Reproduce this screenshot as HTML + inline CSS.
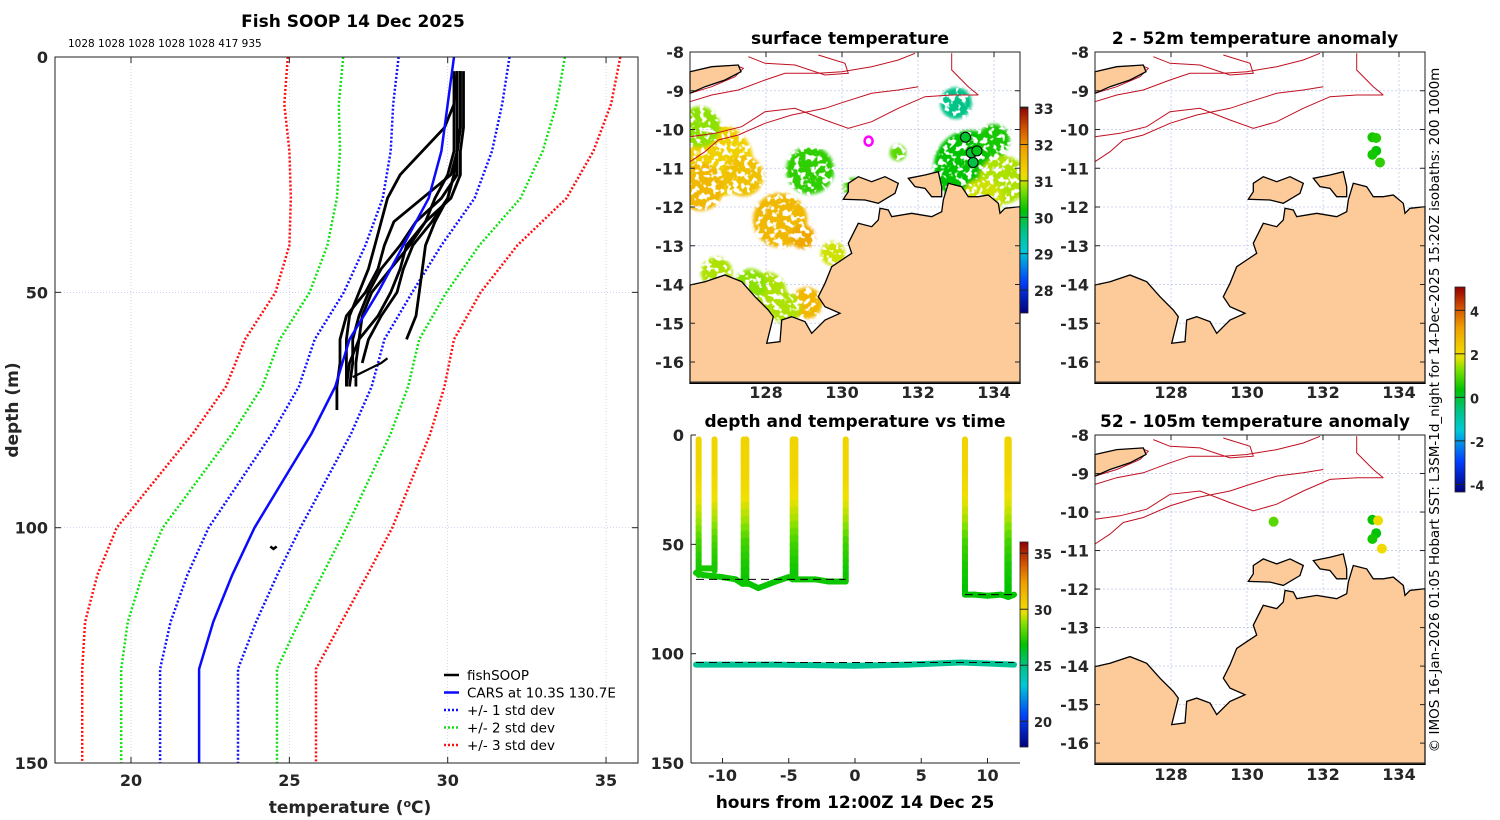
<!DOCTYPE html>
<html><head><meta charset="utf-8">
<style>
html,body{margin:0;padding:0;background:#fff;}
svg{display:block;font-family:"DejaVu Sans","Liberation Sans",sans-serif;}
.tk{font-size:16px;font-weight:bold;fill:#262626;}
.tt{font-size:17px;font-weight:bold;fill:#000;}
</style></head>
<body>
<svg id="fig" width="1500" height="820" viewBox="0 0 1500 820" xmlns="http://www.w3.org/2000/svg">
<defs>
<filter id="blur" x="-50%" y="-50%" width="200%" height="200%">
<feGaussianBlur in="SourceGraphic" stdDeviation="1.5" result="b"/>
<feTurbulence type="fractalNoise" baseFrequency="0.18" numOctaves="2" seed="3" result="n"/>
<feColorMatrix in="n" type="matrix" values="0 0 0 0 0  0 0 0 0 0  0 0 0 0 0  0 0 0 9 -3.3" result="m"/>
<feComposite in="b" in2="m" operator="in"/>
</filter>
</defs>
</svg>
<script>
// ---------- profile chart data ----------
const carsDepth=[0,10,20,30,40,50,60,70,80,90,100,110,120,130,150];
const carsMean=[30.2,30.0,29.8,29.4,28.6,27.8,26.9,26.45,25.7,24.8,23.9,23.2,22.6,22.15,22.15];
const carsStd=[1.75,1.72,1.6,1.45,1.2,1.08,1.1,1.15,1.25,1.35,1.45,1.42,1.35,1.23,1.23];
const profDepth=[3,10,15,20,25,30,35,40,45,50,55,60,65,70,75];
const prof1=[30.4,30.4,30.4,30.3,30.2,30.0,29.6,29.3,29.2,29.1,29.0,28.7,null,null,null];
const prof2=[30.3,30.2,29.9,29.2,28.5,28.1,27.9,27.7,27.5,27.2,26.9,26.8,26.8,26.8,null];
const prof3=[30.3,30.3,30.3,30.3,30.1,29.2,28.3,28.0,27.8,27.4,26.8,26.6,26.6,26.5,26.5];
const prof4=[30.4,30.4,30.4,30.3,30.3,29.8,29.0,28.5,27.9,27.5,27.2,27.0,27.0,26.9,null];
const prof5=[30.2,30.2,30.2,30.2,30.0,29.6,29.3,28.8,28.2,27.6,27.3,27.2,27.1,27.1,null];
const prof6=[30.3,30.3,30.3,30.3,30.2,30.0,29.5,28.9,28.6,28.4,27.9,27.5,27.3,null,null];
const prof7=[30.5,30.5,30.5,30.4,30.4,30.1,29.3,28.7,28.5,28.2,27.8,27.2,26.9,26.8,null];
const squiggleDepth=[68,67,66,65,64];
const squiggleTemp=[27.0,27.3,27.6,27.9,28.1];
const deepDepth=[104,104.5,104];
const deepTemp=[24.4,24.5,24.6];
const profXTicks=[20,25,30,35];
const profYTicks=[0,50,100,150];
const countsText="1028 1028 1028 1028 1028 417 935";

// ---------- time plot data ----------
const castTime=[-11.8,-10.6,-8.4,-8.2,-4.7,-4.5,-0.7,8.3,11.5,11.6];
const castBottom=[64,62,68,68,66,66,67,73,74,73];
const castProfDepth=[0,20,30,40,50,60,70,75];
const castProfTemp=[30.3,30.2,29.8,29.0,27.8,27.2,26.9,26.8];
const bottom1Time=[-12,-11.5,-10,-9,-8.5,-8,-7.3,-6,-5,-4.7];
const bottom1Depth=[63,64,65,66,68,68,70,67,65,66];
const bottom2Time=[-4.5,-3,-2,-0.7];
const bottom2Depth=[66,66,67,67];
const bottom3Time=[8.3,9,10,11,11.6,12];
const bottom3Depth=[73,73,73.5,73,74,73];
const shelfTime=[-11.7,-10.6];
const shelfDepth=[61,61];
const deepTrackTime=[-12,-6,0,4,8,10,12];
const deepTrackDepth=[105,105,105.5,105,104,104.5,105];
const deepTrackTemp=[24.6,24.6,24.6,24.6,24.7,24.6,24.6];
const dashTime=[[-12,-0.7],[-12,12],[8.3,12]];
const dashDepth=[66,104,73];
const timeXTicks=[-10,-5,0,5,10];
const timeYTicks=[0,50,100,150];
const timeCbTicks=[20,25,30,35];

// ---------- map data ----------
const lonTicks=[128,130,132,134];
const latTicks=[-8,-9,-10,-11,-12,-13,-14,-15,-16];
const sstLon=[126.7,126.26,127.4,128.37,128.97,129.16,130.3,133.37,134.24,133.0,128.0,129.07,126.7,129.76,131.47,126.26,133.7,134.0,127.6,128.5];
const sstLat=[-10.8,-11.48,-11.2,-12.34,-12.77,-11.05,-11.5,-10.96,-11.3,-9.32,-14.2,-14.48,-13.7,-13.2,-10.6,-9.93,-11.8,-10.27,-14.0,-14.6];
const sstRad=[0.8,0.53,0.45,0.6,0.27,0.53,0.22,0.8,0.53,0.35,0.45,0.35,0.35,0.27,0.18,0.45,0.45,0.35,0.35,0.35];
const sstVal=[31.3,31.6,31.5,31.6,31.8,30.4,30.5,30.2,30.9,29.6,30.9,31.6,30.9,31.0,30.6,30.8,31.0,30.3,30.8,30.9];
const sstCbTicks=[28,29,30,31,32,33];
const sstDotLon=[133.25,133.4,133.55,133.45];
const sstDotLat=[-10.2,-10.6,-10.55,-10.85];
const sstDotVal=[30.0,30.0,30.1,29.9];
const anomCbTicks=[-4,-2,0,2,4];
const anom1Lon=[133.3,133.4,133.4,133.3,133.5];
const anom1Lat=[-10.2,-10.22,-10.55,-10.65,-10.85];
const anom1Val=[0.5,0.6,0.4,0.5,0.7];
const anom2Lon=[130.7,133.3,133.45,133.4,133.3,133.55];
const anom2Lat=[-10.25,-10.2,-10.22,-10.55,-10.7,-10.95];
const anom2Val=[1.0,0.4,2.0,0.3,0.5,2.0];

// coastline (plot-relative pixel geometry within a 330x330 map box)
const mainlandZ=[[15,735],[60,725],[120,705],[170,725],[210,770],[250,810],[265,830],[245,910],[285,905],[290,840],[320,830],[360,845],[380,880],[420,840],[465,820],[420,800],[400,770],[420,730],[440,680],[470,660],[500,640],[490,610],[520,550],[560,560],[580,540],[585,505],[610,510],[620,530],[680,520],[740,530],[770,515],[775,480],[790,430],[830,440],[850,470],[880,470],[910,465],[940,490],[945,520],[960,505],[1005,500],[1005,1030],[15,1030]];
const melvilleZ=[[490,430],[520,410],[560,425],[600,410],[640,430],[630,460],[580,490],[540,480],[475,478],[490,455]];
const cobourgZ=[[670,415],[720,405],[760,395],[770,440],[770,470],[740,470],[720,445],[690,440]];
const timorZ=[[15,95],[80,80],[160,75],[168,95],[120,120],[60,140],[15,160]];
const iso1Z=[[15,185],[80,165],[160,150],[240,120],[300,100],[400,100],[470,95],[560,80],[640,60],[690,40]];
const iso2Z=[[15,290],[90,280],[170,260],[240,215],[330,205],[420,240],[490,265],[560,245],[640,205],[720,170],[800,165],[880,165]];
const iso3Z=[[15,365],[60,335],[100,300],[160,285],[240,250],[320,225],[420,205],[480,185],[560,160],[640,150],[700,140]];
const iso4Z=[[190,50],[240,70],[330,75],[420,105],[490,100],[480,70],[400,45]];
const iso5Z=[[800,40],[800,90],[850,140],[880,165]];
const iso6Z=[[15,160],[80,140],[150,110],[175,85],[150,75]];

const NS="http://www.w3.org/2000/svg";
const svg=document.getElementById('fig');
function mk(tag,attrs,parent){const e=document.createElementNS(NS,tag);for(const k in attrs)e.setAttribute(k,attrs[k]);(parent||svg).appendChild(e);return e;}
function txt(s,x,y,cls,anchor,parent){const t=mk('text',{x:x,y:y,'class':cls,'text-anchor':anchor||'middle'},parent);t.textContent=s;return t;}
const cmapPos=[0,0.15,0.3,0.4,0.5,0.6,0.66,0.8,0.9,1];
const cmapCol=[[0,0,128],[0,64,255],[0,200,215],[0,195,130],[0,195,0],[130,225,0],[240,225,0],[240,160,0],[210,80,0],[144,0,0]];
function jet(v){v=Math.max(0,Math.min(1,v));
 for(let i=1;i<cmapPos.length;i++){if(v<=cmapPos[i]){const f=(v-cmapPos[i-1])/(cmapPos[i]-cmapPos[i-1]);const a=cmapCol[i-1],b=cmapCol[i];
  return 'rgb('+Math.round(a[0]+f*(b[0]-a[0]))+','+Math.round(a[1]+f*(b[1]-a[1]))+','+Math.round(a[2]+f*(b[2]-a[2]))+')';}}
 return 'rgb(144,0,0)';}
function gradBar(id,x,y,w,h){const lg=mk('linearGradient',{id:id,x1:0,y1:1,x2:0,y2:0},svg.querySelector('defs'));
 for(let i=0;i<=40;i++){mk('stop',{offset:i/40,'stop-color':jet(i/40)},lg);}
 return mk('rect',{x:x,y:y,width:w,height:h,fill:'url(#'+id+')',stroke:'#222','stroke-width':0.8});}

// ================= PROFILE CHART =================
const P={x0:55,x1:638,y0:57,y1:763};
const tx=t=>131+(t-20)*31.67;
const dy=d=>57+d*4.707;
const gP=mk('g',{});


profXTicks.forEach(t=>{const l=mk('line',{x1:tx(t),x2:tx(t),y1:P.y0,y2:P.y1,stroke:'#b8c4e8','stroke-width':0.7,'stroke-dasharray':'1,2'},gP);
 
 const lb=txt(String(t),tx(t),786,'tk','middle',gP);
 
 mk('line',{x1:tx(t),x2:tx(t),y1:P.y1,y2:P.y1-6,stroke:'#222'},gP);mk('line',{x1:tx(t),x2:tx(t),y1:P.y0,y2:P.y0+6,stroke:'#222'},gP);});
profYTicks.forEach(d=>{if(d>0&&d<150){const l=mk('line',{x1:P.x0,x2:P.x1,y1:dy(d),y2:dy(d),stroke:'#b8c4e8','stroke-width':0.7,'stroke-dasharray':'1,2'},gP);
 }
 const lb=txt(String(d),48,dy(d)+6,'tk','end',gP);
 
 mk('line',{x1:P.x0,x2:P.x0+6,y1:dy(d),y2:dy(d),stroke:'#222'},gP);mk('line',{x1:P.x1,x2:P.x1-6,y1:dy(d),y2:dy(d),stroke:'#222'},gP);});
function polyPts(ts,ds){let s=[];for(let i=0;i<ts.length;i++){if(ts[i]==null)continue;s.push(tx(ts[i]).toFixed(1)+','+dy(ds[i]).toFixed(1));}return s.join(' ');}
const sdCols=['#1010ff','#10e010','#ff1010'];
[1,2,3].forEach(k=>{[-1,1].forEach(sg=>{const ts=carsMean.map((m,i)=>m+sg*k*carsStd[i]);
 const l=mk('polyline',{points:polyPts(ts,carsDepth),fill:'none',stroke:sdCols[k-1],'stroke-width':2.5,'stroke-dasharray':'2,2'},gP);
 });});
[prof1,prof2,prof3,prof4,prof5,prof6,prof7].forEach((p,i)=>{const l=mk('polyline',{points:polyPts(p,profDepth),fill:'none',stroke:'#000','stroke-width':2.8,'stroke-linejoin':'round'},gP);
 });
const sq=mk('polyline',{points:polyPts(squiggleTemp,squiggleDepth),fill:'none',stroke:'#000','stroke-width':2.2},gP);

const dp=mk('polyline',{points:polyPts(deepTemp,deepDepth),fill:'none',stroke:'#000','stroke-width':2.6},gP);

const cm=mk('polyline',{points:polyPts(carsMean,carsDepth),fill:'none',stroke:'#0a0aff','stroke-width':2.5},gP);

const bx=mk('rect',{x:P.x0,y:P.y0,width:P.x1-P.x0,height:P.y1-P.y0,fill:'none',stroke:'#222','stroke-width':1},gP);

const t1=txt('Fish SOOP 14 Dec 2025',353,27,'tt','middle',gP);

const ct=txt(countsText,68,47,'','start',gP);ct.setAttribute('font-size','10.5');

const xl=mk('text',{x:350,y:813,'class':'tk','text-anchor':'middle'},gP);xl.setAttribute('style','font-size:17px');
xl.innerHTML='temperature (<tspan dy="-6" font-size="11">o</tspan><tspan dy="6">C)</tspan>';

const yl=txt('depth (m)',0,0,'tk','middle',gP);yl.setAttribute('style','font-size:17px');yl.setAttribute('transform','translate(18,410) rotate(-90)');

const legItems=[['fishSOOP','#000',''],['CARS at 10.3S 130.7E','#0a0aff',''],['+/- 1 std dev','#1010ff','2,2'],['+/- 2 std dev','#10e010','2,2'],['+/- 3 std dev','#ff1010','2,2']];
const gL=mk('g',{},gP);
legItems.forEach((it,i)=>{const y=675+i*17.5;const g=mk('g',{},gL);
 
 mk('line',{x1:444,x2:459,y1:y,y2:y,stroke:it[1],'stroke-width':2.5,'stroke-dasharray':it[2]||'none'},g);
 const t=txt(it[0],467,y+5,'','start',g);t.setAttribute('font-size','13.5');});

// ================= MAPS =================
function mapBox(name,x0,y0,w,h,title){
 const g=mk('g',{});
 const M={g:g,x0:x0,y0:y0,w:w,h:h,lx:lon=>x0+(lon-126)*38.0,ly:lat=>y0+(-8-lat)*(h/330*38.75)};
 M.zx=z=>x0+(z/3-5);M.zy=z=>y0+(z/3-12)*(h/330);
 mk('rect',{x:x0,y:y0,width:w,height:h,fill:'#fff'},g);
 lonTicks.forEach(l=>{const gl=mk('line',{x1:M.lx(l),x2:M.lx(l),y1:y0,y2:y0+h,stroke:'#c0c8ec','stroke-width':0.8,'stroke-dasharray':'2,2'},g);
  });
 latTicks.forEach(l=>{const gl=mk('line',{x1:x0,x2:x0+w,y1:M.ly(l),y2:M.ly(l),stroke:'#c0c8ec','stroke-width':0.8,'stroke-dasharray':'2,2'},g);
  });
 const t=txt(title,x0+w/2-5,y0-8,'tt','middle',g);
 return M;}
function mapFinish(M,xlabY){
 const g=M.g;
 const zp=a=>a.map(p=>M.zx(p[0]).toFixed(1)+','+M.zy(p[1]).toFixed(1)).join(' ');
 [iso1Z,iso2Z,iso3Z,iso4Z,iso5Z,iso6Z].forEach(a=>{const l=mk('polyline',{points:zp(a),fill:'none',stroke:'#c01020','stroke-width':1},g);
  });
 [mainlandZ,melvilleZ,cobourgZ,timorZ].forEach((a,i)=>{const l=mk('polygon',{points:zp(a),fill:'#fccb99',stroke:'#000','stroke-width':1.3},g);
  });
 const b=mk('rect',{x:M.x0,y:M.y0,width:M.w,height:M.h,fill:'none',stroke:'#222','stroke-width':1},g);
 
 latTicks.forEach(l=>{const t=txt(String(l),M.x0-6,M.ly(l)+6,'tk','end',g);
  mk('line',{x1:M.x0,x2:M.x0+5,y1:M.ly(l),y2:M.ly(l),stroke:'#222'},g);mk('line',{x1:M.x0+M.w,x2:M.x0+M.w-5,y1:M.ly(l),y2:M.ly(l),stroke:'#222'},g);});
 lonTicks.forEach(l=>{const t=txt(String(l),M.lx(l),xlabY,'tk','middle',g);
  mk('line',{x1:M.lx(l),x2:M.lx(l),y1:M.y0,y2:M.y0+5,stroke:'#222'},g);});}

// surface temperature map
const sstMin=27.37,sstMax=33.03;
const M1=mapBox('surface-temperature-map',690,52,330,330,'surface temperature');
const gS=mk('g',{'clip-path':'url(#clip1)'},M1.g);
mk('rect',{x:690,y:52,width:330,height:330},mk('clipPath',{id:'clip1'},svg.querySelector('defs')));
const gB=mk('g',{filter:'url(#blur)'},gS);
mk('rect',{x:690,y:52,width:330,height:330,fill:'#fff','fill-opacity':0.004},gB);
sstLon.forEach((lo,i)=>{const c=mk('circle',{cx:M1.lx(lo),cy:M1.ly(sstLat[i]),r:sstRad[i]*38*1.2,fill:jet((sstVal[i]-sstMin)/(sstMax-sstMin))},gB);
 });
mapFinish(M1,398);
sstDotLon.forEach((lo,i)=>{const c=mk('circle',{cx:M1.lx(lo),cy:M1.ly(sstDotLat[i]),r:5,fill:jet((sstDotVal[i]-sstMin)/(sstMax-sstMin)),stroke:'#000','stroke-width':1},M1.g);
 });
const ring=mk('ellipse',{cx:M1.lx(130.7),cy:M1.ly(-10.3),rx:4,ry:4.5,fill:'none',stroke:'#ff00ff','stroke-width':2.5},M1.g);

const cb1=gradBar('g1',1020,107,8,206);
const cbY1=v=>313-(v-sstMin)/(sstMax-sstMin)*206;
sstCbTicks.forEach(v=>{const t=txt(String(v),1034,cbY1(v)+6,'tk','start');t.setAttribute('style','font-size:14px');
 mk('line',{x1:1020,x2:1028,y1:cbY1(v),y2:cbY1(v),stroke:'#222'});});

// anomaly maps
const anMin=-4.35,anMax=5.07;
const M2=mapBox('anomaly-2-52m-map',1095,52,330,330,'2 - 52m temperature anomaly');
mapFinish(M2,398);
anom1Lon.forEach((lo,i)=>{const c=mk('circle',{cx:M2.lx(lo),cy:M2.ly(anom1Lat[i]),r:5,fill:jet((anom1Val[i]-anMin)/(anMax-anMin))},M2.g);
 });
const M3=mapBox('anomaly-52-105m-map',1095,435,330,328,'52 - 105m temperature anomaly');
mapFinish(M3,780);
anom2Lon.forEach((lo,i)=>{const c=mk('circle',{cx:M3.lx(lo),cy:M3.ly(anom2Lat[i]),r:5,fill:jet((anom2Val[i]-anMin)/(anMax-anMin))},M3.g);
 });
const cb3=gradBar('g3',1455,287,10,205);
const cbY3=v=>492-(v-anMin)/(anMax-anMin)*205;
anomCbTicks.forEach(v=>{const t=txt(String(v),1470,cbY3(v)+6,'tk','start');t.setAttribute('style','font-size:13px');
 
 mk('line',{x1:1455,x2:1465,y1:cbY3(v),y2:cbY3(v),stroke:'#222'});});
const cr=txt('© IMOS 16-Jan-2026 01:05 Hobart SST: L3SM-1d_night for 14-Dec-2025 15:20Z isobaths: 200  1000m',0,0,'','middle');
cr.setAttribute('font-size','13.5');cr.setAttribute('transform','translate(1439,410) rotate(-90)');cr.setAttribute('xml:space','preserve');


// ================= TIME PLOT =================
const T={x0:691,x1:1020,y0:435,y1:763};
const hx=h=>855+h*13.25;
const hy=d=>435+d*2.187;
const tMin=17.7,tMax=36;
const tc=v=>jet((v-tMin)/(tMax-tMin));
const gT=mk('g',{});
function castTemp(d){for(let i=1;i<castProfDepth.length;i++){if(d<=castProfDepth[i]){const f=(d-castProfDepth[i-1])/(castProfDepth[i]-castProfDepth[i-1]);return castProfTemp[i-1]+f*(castProfTemp[i]-castProfTemp[i-1]);}}return castProfTemp[castProfTemp.length-1];}
function track(ts,ds,name){const g=mk('g',{},gT);
 for(let i=1;i<ts.length;i++){const d=(ds[i]+ds[i-1])/2;mk('line',{x1:hx(ts[i-1]),x2:hx(ts[i]),y1:hy(ds[i-1]),y2:hy(ds[i]),stroke:tc(castTemp(d)),'stroke-width':6,'stroke-linecap':'round'},g);}}
track(bottom1Time,bottom1Depth,'bottom-track-1');track(bottom2Time,bottom2Depth,'bottom-track-2');track(bottom3Time,bottom3Depth,'bottom-track-3');track(shelfTime,shelfDepth,'shelf-track');
castTime.forEach((t,i)=>{const g=mk('g',{},gT);
 const n=20;for(let k=0;k<n;k++){const d0=2+(castBottom[i]-2)*k/n,d1=2+(castBottom[i]-2)*(k+1)/n;
  mk('line',{x1:hx(t),x2:hx(t),y1:hy(d0),y2:hy(d1),stroke:tc(castTemp((d0+d1)/2)),'stroke-width':6,'stroke-linecap':'round'},g);}});
const gD=mk('g',{},gT);
for(let i=1;i<deepTrackTime.length;i++){mk('line',{x1:hx(deepTrackTime[i-1]),x2:hx(deepTrackTime[i]),y1:hy(deepTrackDepth[i-1]),y2:hy(deepTrackDepth[i]),stroke:tc(deepTrackTemp[i]),'stroke-width':6,'stroke-linecap':'round'},gD);}
dashTime.forEach((tt,i)=>{const l=mk('line',{x1:hx(tt[0]),x2:hx(tt[1]),y1:hy(dashDepth[i]),y2:hy(dashDepth[i]),stroke:'#000','stroke-width':1,'stroke-dasharray':'8,5'},gT);
 });
mk('line',{x1:T.x0,x2:T.x0,y1:T.y0,y2:T.y1,stroke:'#222'},gT);mk('line',{x1:T.x0,x2:T.x1,y1:T.y1,y2:T.y1,stroke:'#222'},gT);
timeXTicks.forEach(h=>{const t=txt(String(h),hx(h),781,'tk','middle',gT);
 mk('line',{x1:hx(h),x2:hx(h),y1:T.y1,y2:T.y1-5,stroke:'#222'},gT);});
timeYTicks.forEach(d=>{const t=txt(String(d),684,hy(d)+6,'tk','end',gT);
 mk('line',{x1:T.x0,x2:T.x0+5,y1:hy(d),y2:hy(d),stroke:'#222'},gT);});
const tt2=txt('depth and temperature vs time',855,427,'tt','middle',gT);
const tx2=txt('hours from 12:00Z 14 Dec 25',855,808,'tt','middle',gT);
const cb2=gradBar('g2',1020,542,8,205);
const cbY2=v=>747-(v-tMin)/(tMax-tMin)*205;
timeCbTicks.forEach(v=>{const t=txt(String(v),1034,cbY2(v)+6,'tk','start');t.setAttribute('style','font-size:13px');
 
 mk('line',{x1:1020,x2:1028,y1:cbY2(v),y2:cbY2(v),stroke:'#222'});});
</script>
</body></html>
